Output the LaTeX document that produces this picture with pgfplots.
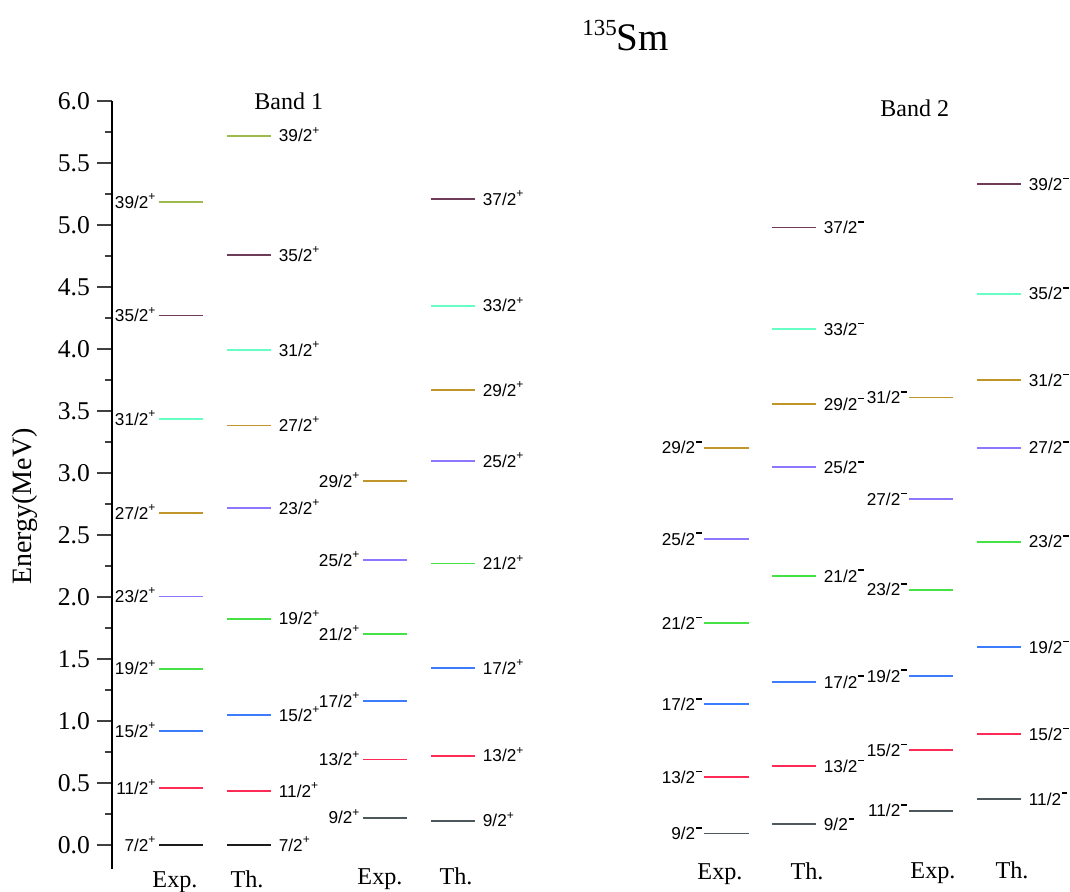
\documentclass[border=0pt]{standalone}
\usepackage{fontspec}
\setmainfont{Liberation Serif}
\newfontfamily\lab{Liberation Sans}
\usepackage{pgfplots}
\pgfplotsset{compat=1.18}

% level colours, by position of the level inside its column
\definecolor{kb}{HTML}{1C1C1C}
\definecolor{k0}{HTML}{4D585C}
\definecolor{k1}{HTML}{FF2A55}
\definecolor{k2}{HTML}{3D7BFF}
\definecolor{k3}{HTML}{44E244}
\definecolor{k4}{HTML}{8B78FF}
\definecolor{k5}{HTML}{C0962A}
\definecolor{k6}{HTML}{66FFC4}
\definecolor{k7}{HTML}{6E3C58}
\definecolor{k8}{HTML}{9DBA4C}

% spin-parity labels
\newcommand\jp[1]{#1/2\textsuperscript{+}}
\newcommand\jm[1]{#1/2\kern0.04em\rule[0.64em]{0.32em}{0.1em}}

\tikzset{
  lv/.style={line width=0.9pt},
  lvlR/.style={anchor=base west, inner sep=0pt, xshift=3.5pt, yshift=-3.1pt,
               text=black, font=\lab\fontsize{8.6}{10}\selectfont},
  lvlL/.style={anchor=base east, inner sep=0pt, xshift=-0.8pt, yshift=-3.1pt,
               text=black, font=\lab\fontsize{8.6}{10}\selectfont},
  coltitle/.style={anchor=base, inner sep=0pt, font=\fontsize{12.1}{14}\selectfont},
}

% one level: x from, x to, energy (MeV), colour, label
\newcommand\levR[5]{\addplot[lv,#4] coordinates {(#1,#3) (#2,#3)} node[pos=1,lvlR] {#5};}
\newcommand\levL[5]{\addplot[lv,#4] coordinates {(#1,#3) (#2,#3)} node[pos=0,lvlL] {#5};}

\begin{document}
\begin{tikzpicture}
\begin{axis}[
  scale only axis,
  width=479pt, height=384.03pt,
  xmin=112, xmax=1070, ymin=-0.194, ymax=6.0,
  axis x line=none,
  axis y line=left,
  axis line style={-, black, line width=0.6pt},
  every outer y axis line/.append style={-},
  every inner y axis line/.append style={-},
  ytick={0,0.5,1,1.5,2,2.5,3,3.5,4,4.5,5,5.5,6},
  minor y tick num=1,
  tick align=outside,
  major tick length=7.5pt,
  minor tick length=3.5pt,
  tick style={black!75, line width=0.6pt},
  /pgf/number format/assume math mode=true,
  yticklabel={\pgfmathprintnumber[fixed,fixed zerofill,precision=1]{\tick}},
  yticklabel style={font=\fontsize{12.8}{14}\selectfont},
  clip=false,
]

% ---- Band 1, Exp. (signature a)
\levL{159}{203}{0.000}{kb}{\jp{7}}
\levL{159}{203}{0.460}{k1}{\jp{11}}
\levL{159}{203}{0.917}{k2}{\jp{15}}
\levL{159}{203}{1.422}{k3}{\jp{19}}
\levL{159}{203}{2.005}{k4}{\jp{23}}
\levL{159}{203}{2.677}{k5}{\jp{27}}
\levL{159}{203}{3.433}{k6}{\jp{31}}
\levL{159}{203}{4.270}{k7}{\jp{35}}
\levL{159}{203}{5.185}{k8}{\jp{39}}
% ---- Band 1, Th.
\levR{227}{271}{0.000}{kb}{\jp{7}}
\levR{227}{271}{0.435}{k1}{\jp{11}}
\levR{227}{271}{1.050}{k2}{\jp{15}}
\levR{227}{271}{1.825}{k3}{\jp{19}}
\levR{227}{271}{2.718}{k4}{\jp{23}}
\levR{227}{271}{3.384}{k5}{\jp{27}}
\levR{227}{271}{3.990}{k6}{\jp{31}}
\levR{227}{271}{4.760}{k7}{\jp{35}}
\levR{227}{271}{5.720}{k8}{\jp{39}}
% ---- Band 1, Exp. (signature b)
\levL{363}{407}{0.220}{k0}{\jp{9}}
\levL{363}{407}{0.690}{k1}{\jp{13}}
\levL{363}{407}{1.160}{k2}{\jp{17}}
\levL{363}{407}{1.700}{k3}{\jp{21}}
\levL{363}{407}{2.300}{k4}{\jp{25}}
\levL{363}{407}{2.935}{k5}{\jp{29}}
% ---- Band 1, Th.
\levR{431}{475}{0.196}{k0}{\jp{9}}
\levR{431}{475}{0.720}{k1}{\jp{13}}
\levR{431}{475}{1.425}{k2}{\jp{17}}
\levR{431}{475}{2.270}{k3}{\jp{21}}
\levR{431}{475}{3.094}{k4}{\jp{25}}
\levR{431}{475}{3.670}{k5}{\jp{29}}
\levR{431}{475}{4.350}{k6}{\jp{33}}
\levR{431}{475}{5.210}{k7}{\jp{37}}
% ---- Band 2, Exp. (signature a)
\levL{704}{749}{0.094}{k0}{\jm{9}}
\levL{704}{749}{0.548}{k1}{\jm{13}}
\levL{704}{749}{1.135}{k2}{\jm{17}}
\levL{704}{749}{1.790}{k3}{\jm{21}}
\levL{704}{749}{2.468}{k4}{\jm{25}}
\levL{704}{749}{3.204}{k5}{\jm{29}}
% ---- Band 2, Th.
\levR{772}{816}{0.167}{k0}{\jm{9}}
\levR{772}{816}{0.637}{k1}{\jm{13}}
\levR{772}{816}{1.315}{k2}{\jm{17}}
\levR{772}{816}{2.170}{k3}{\jm{21}}
\levR{772}{816}{3.046}{k4}{\jm{25}}
\levR{772}{816}{3.556}{k5}{\jm{29}}
\levR{772}{816}{4.160}{k6}{\jm{33}}
\levR{772}{816}{4.980}{k7}{\jm{37}}
% ---- Band 2, Exp. (signature b)
\levL{909}{953}{0.277}{k0}{\jm{11}}
\levL{909}{953}{0.766}{k1}{\jm{15}}
\levL{909}{953}{1.365}{k2}{\jm{19}}
\levL{909}{953}{2.059}{k3}{\jm{23}}
\levL{909}{953}{2.790}{k4}{\jm{27}}
\levL{909}{953}{3.610}{k5}{\jm{31}}
% ---- Band 2, Th.
\levR{977}{1021}{0.373}{k0}{\jm{11}}
\levR{977}{1021}{0.895}{k1}{\jm{15}}
\levR{977}{1021}{1.597}{k2}{\jm{19}}
\levR{977}{1021}{2.446}{k3}{\jm{23}}
\levR{977}{1021}{3.204}{k4}{\jm{27}}
\levR{977}{1021}{3.750}{k5}{\jm{31}}
\levR{977}{1021}{4.446}{k6}{\jm{35}}
\levR{977}{1021}{5.330}{k7}{\jm{39}}

% column captions
\node[coltitle] at (axis cs:175,-0.339) {Exp.};
\node[coltitle] at (axis cs:247,-0.339) {Th.};
\node[coltitle] at (axis cs:380,-0.315) {Exp.};
\node[coltitle] at (axis cs:456,-0.315) {Th.};
\node[coltitle] at (axis cs:720,-0.274) {Exp.};
\node[coltitle] at (axis cs:807,-0.274) {Th.};
\node[coltitle] at (axis cs:933,-0.266) {Exp.};
\node[coltitle] at (axis cs:1012,-0.266) {Th.};

% band names and nucleus
\node[anchor=base west, inner sep=0pt, font=\fontsize{12}{14}\selectfont] at (axis cs:254,5.935) {Band 1};
\node[anchor=base west, inner sep=0pt, font=\fontsize{12}{14}\selectfont] at (axis cs:880,5.879) {Band 2};
\node[anchor=base west, inner sep=0pt] at (axis cs:582,6.411)
  {\raisebox{7.3pt}{\fontsize{11.5}{12}\selectfont 135}\fontsize{19.5}{22}\selectfont Sm};

% energy axis title
\node[rotate=90, anchor=base, inner sep=0pt, font=\fontsize{14}{16}\selectfont] at (axis cs:32,2.73) {Energy(MeV)};

\coordinate (bl) at (axis cs:0,-0.371);
\coordinate (tr) at (axis cs:1070,6.815);
\end{axis}
\pgfresetboundingbox
\useasboundingbox (bl) rectangle (tr);
\end{tikzpicture}
\end{document}
